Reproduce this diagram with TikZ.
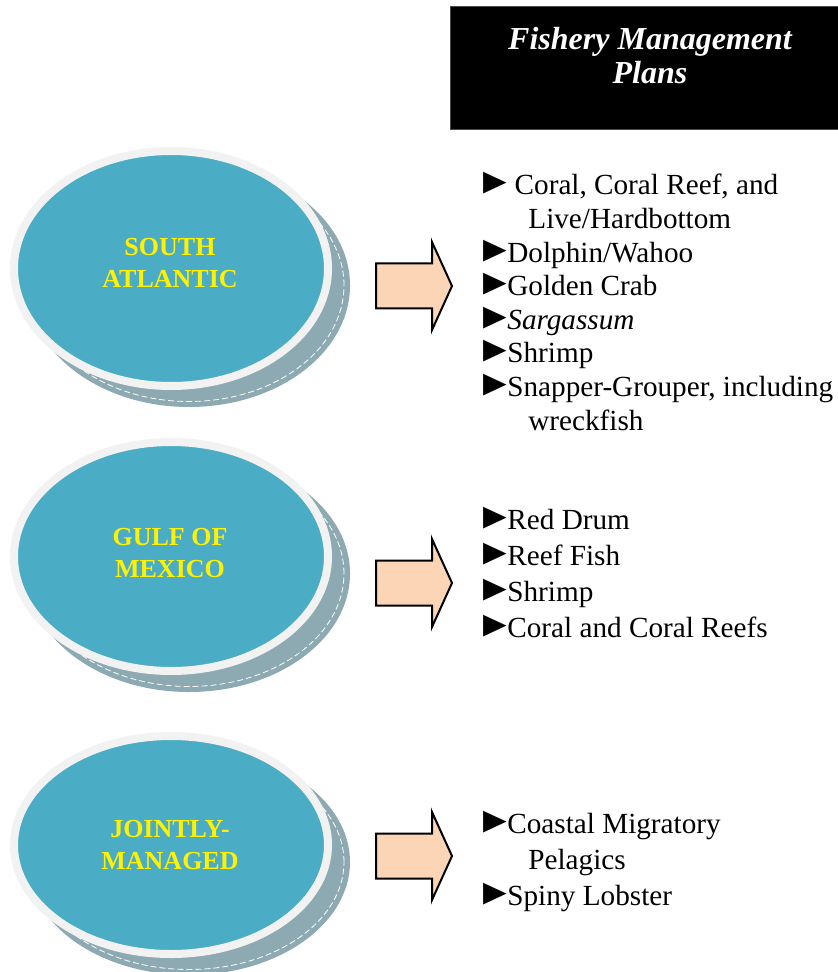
\documentclass[tikz,border=0pt]{standalone}
\usepackage{fontspec}
\setmainfont{Liberation Serif}
\newfontfamily\pointerfont{DejaVu Sans}
\usepackage{xcolor}
\usepackage{graphicx}
\usepackage{tikz}
\usetikzlibrary{positioning}
\usetikzlibrary{shapes.geometric}
\definecolor{seablue}{HTML}{4BACC6}
\definecolor{ringgray}{HTML}{F2F2F2}
\definecolor{shadowgray}{HTML}{8DAAB3}
\definecolor{peach}{HTML}{FBD5B5}
\newcommand\bul{\makebox[12pt][l]{\smash{\scalebox{1.05}[1.5]{\pointerfont ►}}}}
\newcommand\planarrow[1]{
  \draw[black, fill=peach, line width=1pt, line join=miter] (376,#1-22.5) -- (432,#1-22.5) -- (432,#1-44) -- (452,#1) -- (432,#1+44) -- (432,#1+22.5) -- (376,#1+22.5) -- cycle;
}

\begin{document}
\begin{tikzpicture}[x=0.5pt, y=-0.5pt,
    region/.style={ellipse, fill=seablue, draw=ringgray, line width=4pt, minimum width=157pt, inner sep=0pt},
    regionshadow/.style={ellipse, fill=shadowgray, minimum width=161pt, inner sep=0pt},
    shadowdash/.style={ellipse, draw=white, line width=0.4pt, dash pattern=on 3pt off 1.5pt, minimum width=155pt, inner sep=0pt},
    regiontext/.style={text=yellow, align=center, font=\bfseries\fontsize{13}{16}\selectfont},
    plans/.style={anchor=north west, inner sep=0pt, align=left}]
			    		\useasboundingbox (0,0) rectangle (838,972);
			    		% header box
			    		\node[fill=black, draw=black!70, minimum width=194pt, minimum height=61.5pt, inner sep=0pt] (fmp) at (644,67.5) {};
			    		\node[text=white, align=center, font=\bfseries\itshape\fontsize{16}{17}\selectfont] (fmptitle) at (650,56) {Fishery Management\\Plans};
			    		% regions
			    		\coordinate (sac) at (171,268.5);
			    		\coordinate (gmc) at (171,556.5);
			    		\coordinate (jmc) at (171,845);
			    		\node[regionshadow, minimum height=121.5pt] (sashadow) at ([shift={(18,17)}]sac) {};
			    		\node[shadowdash, minimum height=116pt] at (sashadow) {};
			    		\node[region, minimum height=117.5pt] (sa) at (sac) {};
			    		\node[regiontext] (satext) at (170,263) {SOUTH\\ATLANTIC};
			    		\node[regionshadow, minimum height=118.5pt] (gmshadow) at ([shift={(18,17)}]gmc) {};
			    		\node[shadowdash, minimum height=113pt] at (gmshadow) {};
			    		\node[region, minimum height=114.5pt] (gm) at (gmc) {};
			    		\node[regiontext] (gmtext) at (170,553) {GULF OF\\MEXICO};
			    		\node[regionshadow, minimum height=113pt] (jmshadow) at ([shift={(18,17)}]jmc) {};
			    		\node[shadowdash, minimum height=107.5pt] at (jmshadow) {};
			    		\node[region, minimum height=109pt] (jm) at (jmc) {};
			    		\node[regiontext] (jmtext) at (170,845) {JOINTLY-\\MANAGED};
			    		% arrows
			    		\planarrow{286}
			    		\planarrow{583}
			    		\planarrow{856}
			    		% plan lists
			    		\node[plans, font=\fontsize{14.6}{16.8}\selectfont] (salist) at (483,174) {\bul\ Coral, Coral Reef, and\\\hspace*{22.5pt}Live/Hardbottom\\\bul Dolphin/Wahoo\\\bul Golden Crab\\\bul\textit{Sargassum}\\\bul Shrimp\\\bul Snapper-Grouper, including\\\hspace*{22.5pt}wreckfish};
			    		\node[plans, font=\fontsize{14.6}{18}\selectfont] (gmlist) at (483,509) {\bul Red Drum\\\bul Reef Fish\\\bul Shrimp\\\bul Coral and Coral Reefs};
			    		\node[plans, font=\fontsize{14.6}{18}\selectfont] (jmlist) at (483,813) {\bul Coastal Migratory\\\hspace*{22.5pt}Pelagics\\\bul Spiny Lobster};
			    	\end{tikzpicture}
\end{document}
